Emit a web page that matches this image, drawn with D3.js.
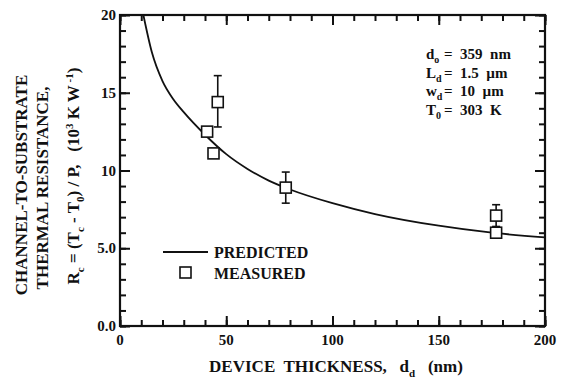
<!DOCTYPE html>
<html>
<head>
<meta charset="utf-8">
<script src="https://cdn.jsdelivr.net/npm/d3@7"></script>
<style>
  html, body { margin: 0; padding: 0; background: #fff; }
  svg { display: block; }
  text { font-family: "Liberation Serif", "Times New Roman", serif; font-weight: bold; fill: #111; white-space: pre; }
</style>
</head>
<body>
<svg id="chart" width="564" height="390"></svg>
<script>
// Predicted channel-to-substrate thermal resistance vs device thickness
const predictedThickness = [11, 15, 20, 25, 30, 40, 50, 60, 70, 80, 100, 120, 150, 175, 200];
const predictedResistance = [20.0, 17.6, 15.75, 14.6, 13.75, 12.3, 11.05, 10.1, 9.35, 8.78, 7.9, 7.2, 6.45, 6.0, 5.7];

// Measured values with error bars (null = no bar drawn)
const measuredThickness = [46, 41, 44, 78, 177, 177];
const measuredResistance = [14.4, 12.5, 11.1, 8.9, 7.1, 6.0];
const errorLow = [12.8, null, null, 7.9, 6.4, null];
const errorHigh = [16.1, null, null, 9.9, 7.8, null];

const xTickValues = [0, 50, 100, 150, 200];
const xTickLabels = ["0", "50", "100", "150", "200"];
const yTickValues = [0, 5, 10, 15, 20];
const yTickLabels = ["0.0", "5.0", "10", "15", "20"];

const svg = d3.select("#chart");
const plotLeft = 120, plotRight = 545, plotTop = 15, plotBottom = 326;

const x = d3.scaleLinear().domain([0, 200]).range([plotLeft, plotRight]);
const y = d3.scaleLinear().domain([0, 20]).range([plotBottom, plotTop]);

const ink = "#111";
const majorLen = 10, minorLen = 6;

// Inward ticks on all four sides, drawn with d3 axes: every 10 nm / 1 unit,
// longer at the labelled values
const xMinor = d3.range(0, 201, 10);
const yMinor = d3.range(0, 21, 1);
function axisTicks(axis, tx, ty) {
  const g = svg.append("g").attr("transform", `translate(${tx},${ty})`).call(axis);
  g.select(".domain").remove();
  g.selectAll(".tick text").remove();
  g.selectAll(".tick line").attr("stroke", ink).attr("stroke-width", 2);
}
axisTicks(d3.axisTop(x).tickValues(xMinor).tickSize(minorLen), 0, plotBottom);
axisTicks(d3.axisTop(x).tickValues(xTickValues).tickSize(majorLen), 0, plotBottom);
axisTicks(d3.axisBottom(x).tickValues(xMinor).tickSize(minorLen), 0, plotTop);
axisTicks(d3.axisBottom(x).tickValues(xTickValues).tickSize(majorLen), 0, plotTop);
axisTicks(d3.axisRight(y).tickValues(yMinor).tickSize(minorLen), plotLeft, 0);
axisTicks(d3.axisRight(y).tickValues(yTickValues).tickSize(majorLen), plotLeft, 0);
axisTicks(d3.axisLeft(y).tickValues(yMinor).tickSize(minorLen), plotRight, 0);
axisTicks(d3.axisLeft(y).tickValues(yTickValues).tickSize(majorLen), plotRight, 0);

// Frame
svg.append("rect")
  .attr("x", plotLeft).attr("y", plotTop)
  .attr("width", plotRight - plotLeft).attr("height", plotBottom - plotTop)
  .attr("fill", "none").attr("stroke", ink).attr("stroke-width", 2.2);

// Tick labels
svg.append("g").selectAll("text").data(xTickValues).join("text")
  .attr("x", d => x(d)).attr("y", plotBottom + 19)
  .attr("text-anchor", "middle").attr("font-size", 15)
  .text((d, i) => xTickLabels[i]);

svg.append("g").selectAll("text").data(yTickValues).join("text")
  .attr("x", plotLeft - 4).attr("y", d => y(d) + 5)
  .attr("text-anchor", "end").attr("font-size", 15)
  .text((d, i) => yTickLabels[i]);

// Predicted curve
const curvePts = predictedThickness.map((d, i) => [d, predictedResistance[i]]);
svg.append("path")
  .datum(curvePts)
  .attr("d", d3.line().x(d => x(d[0])).y(d => y(d[1])).curve(d3.curveMonotoneX))
  .attr("fill", "none").attr("stroke", ink).attr("stroke-width", 1.8);

// Error bars
const cap = 4;
measuredThickness.forEach((d, i) => {
  if (errorLow[i] == null) return;
  const g = svg.append("g").attr("stroke", ink).attr("stroke-width", 1.6);
  g.append("line").attr("x1", x(d)).attr("x2", x(d)).attr("y1", y(errorLow[i])).attr("y2", y(errorHigh[i]));
  g.append("line").attr("x1", x(d) - cap).attr("x2", x(d) + cap).attr("y1", y(errorLow[i])).attr("y2", y(errorLow[i]));
  g.append("line").attr("x1", x(d) - cap).attr("x2", x(d) + cap).attr("y1", y(errorHigh[i])).attr("y2", y(errorHigh[i]));
});

// Measured squares
const sq = 11;
svg.append("g").selectAll("rect").data(measuredThickness).join("rect")
  .attr("x", d => x(d) - sq / 2)
  .attr("y", (d, i) => y(measuredResistance[i]) - sq / 2)
  .attr("width", sq).attr("height", sq)
  .attr("fill", "#fff").attr("stroke", ink).attr("stroke-width", 1.6);

// Legend
svg.append("line").attr("x1", 163).attr("x2", 208).attr("y1", 252).attr("y2", 252)
  .attr("stroke", ink).attr("stroke-width", 1.8);
svg.append("text").attr("x", 214).attr("y", 258).attr("font-size", 16).text("PREDICTED");
svg.append("rect").attr("x", 180).attr("y", 267).attr("width", sq).attr("height", sq)
  .attr("fill", "#fff").attr("stroke", ink).attr("stroke-width", 1.6);
svg.append("text").attr("x", 214).attr("y", 279).attr("font-size", 16).text("MEASURED");

// Device parameters, aligned on the "=" sign
const params = [
  { sym: "d", sub: "o", val: "359  nm" },
  { sym: "L", sub: "d", val: "1.5  µm" },
  { sym: "w", sub: "d", val: "10  µm" },
  { sym: "T", sub: "0", val: "303  K" }
];
params.forEach((p, i) => {
  const by = 59 + i * 18.5;
  const t = svg.append("text").attr("x", 426).attr("y", by).attr("font-size", 15);
  t.append("tspan").text(p.sym);
  t.append("tspan").attr("dy", 4).attr("font-size", 10).text(p.sub);
  svg.append("text").attr("x", 444).attr("y", by).attr("font-size", 15).text("=  " + p.val);
});

// X axis title
const xt = svg.append("text").attr("x", 336).attr("y", 372).attr("text-anchor", "middle").attr("font-size", 17);
xt.append("tspan").text("DEVICE  THICKNESS,   d");
xt.append("tspan").attr("dy", 5).attr("font-size", 11).text("d");
xt.append("tspan").attr("dy", -5).text("   (nm)");

// Y axis title (three rotated lines)
svg.append("text").attr("transform", "translate(27,185) rotate(-90)")
  .attr("text-anchor", "middle").attr("font-size", 17).text("CHANNEL-TO-SUBSTRATE");
svg.append("text").attr("transform", "translate(48,188) rotate(-90)")
  .attr("text-anchor", "middle").attr("font-size", 17).text("THERMAL RESISTANCE,");
const yt = svg.append("text").attr("transform", "translate(79,176) rotate(-90)")
  .attr("text-anchor", "middle").attr("font-size", 17);
yt.append("tspan").text("R");
yt.append("tspan").attr("dy", 5).attr("font-size", 11).text("c");
yt.append("tspan").attr("dy", -5).text(" = (T");
yt.append("tspan").attr("dy", 5).attr("font-size", 11).text("c");
yt.append("tspan").attr("dy", -5).text(" - T");
yt.append("tspan").attr("dy", 5).attr("font-size", 11).text("0");
yt.append("tspan").attr("dy", -5).text(") / P,   (10");
yt.append("tspan").attr("dy", -6).attr("font-size", 11).text("3");
yt.append("tspan").attr("dy", 6).text(" K W");
yt.append("tspan").attr("dy", -6).attr("font-size", 11).text(" -1");
yt.append("tspan").attr("dy", 6).text(")");
</script>
</body>
</html>
